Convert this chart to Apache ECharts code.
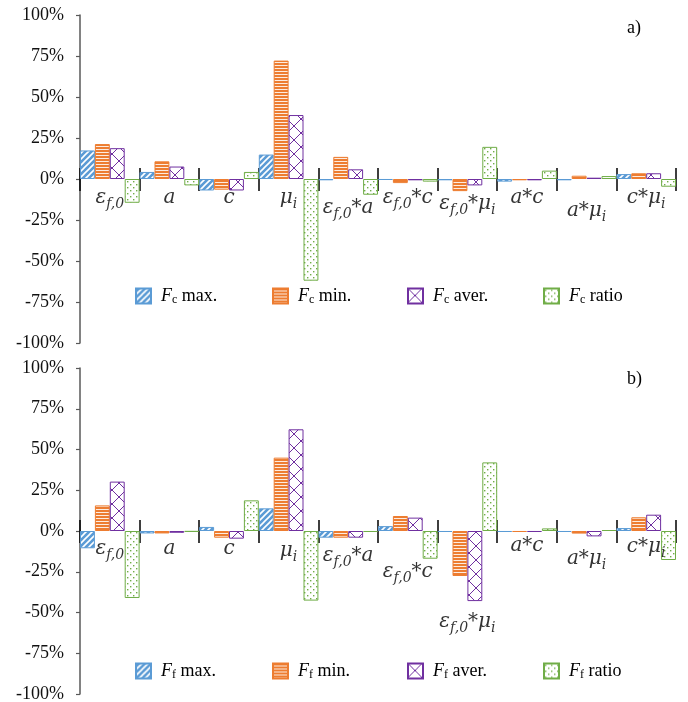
<!DOCTYPE html>
<html><head><meta charset="utf-8">
<script src="https://cdn.jsdelivr.net/npm/echarts@6/dist/echarts.min.js"></script>
<style>html,body{margin:0;padding:0;background:#fff}#c{width:688px;height:702px}</style>
</head><body><div id="c"></div>
<script>
// ---------- DATA ----------
const categories = ['ε_f,0', 'a', 'c', 'μ_i', 'ε_f,0*a', 'ε_f,0*c', 'ε_f,0*μ_i', 'a*c', 'a*μ_i', 'c*μ_i'];
const yMin = -100, yMax = 100, yStep = 25;

const namesTop = ['F_c max.', 'F_c min.', 'F_c aver.', 'F_c ratio'];
const fcMax   = [17.4, 4.3, -7.0, 14.9, -0.8, -0.6, -0.8, -1.6, -0.8, 3.0];
const fcMin   = [21.3, 10.8, -6.5, 72.2, 13.5, -2.5, -7.4, -0.8, 2.0, 3.5];
const fcAver  = [18.8, 7.6, -7.0, 39.0, 5.9, -0.8, -3.9, -0.8, 0.8, 3.5];
const fcRatio = [-14.5, -3.9, 4.3, -62.0, -9.6, -1.6, 19.6, 5.1, 1.8, -4.7];

const namesBottom = ['F_f max.', 'F_f min.', 'F_f aver.', 'F_f ratio'];
const ffMax   = [-10.6, -1.5, 2.5, 13.9, -4.1, 3.0, -0.6, -0.6, -0.6, 1.8];
const ffMin   = [15.7, -1.5, -4.1, 45.0, -4.1, 9.2, -27.6, -0.6, -1.6, 8.4];
const ffAver  = [30.3, -1.1, -4.7, 62.4, -4.1, 8.2, -43.0, -0.6, -3.3, 10.0];
const ffRatio = [-41.1, -0.5, 18.8, -42.7, -0.6, -17.0, 42.1, 1.6, 0.6, -17.8];

const panelLabels = ['a)', 'b)'];

// ---------- STYLE ----------
const colors = ['#5B9BD5', '#ED7D31', '#7030A0', '#70AD47'];
// downward offset (px) of each category label below the zero line, per panel
const labelShiftTop = [6, 6, 6, 6, 16, 6, 12, 6, 19, 6];
const labelShiftBottom = [5, 5, 5, 7, 12, 28, 78, 2, 15, 3];

function tile(w, h, draw) {
  const c = document.createElement('canvas');
  c.width = w; c.height = h;
  draw(c.getContext('2d'), w, h);
  return { image: c, repeat: 'repeat' };
}
const patterns = [
  tile(6, 6, (g) => {
    g.fillStyle = colors[0]; g.fillRect(0, 0, 6, 6);
    g.strokeStyle = '#ffffff'; g.lineWidth = 1.6;
    g.beginPath();
    g.moveTo(-1, 7); g.lineTo(7, -1);
    g.moveTo(-1, 1); g.lineTo(1, -1);
    g.moveTo(5, 7); g.lineTo(7, 5);
    g.stroke();
  }),
  tile(4, 3, (g) => {
    g.fillStyle = colors[1]; g.fillRect(0, 0, 4, 3);
    g.fillStyle = 'rgba(255,255,255,0.85)'; g.fillRect(0, 2, 4, 1);
  }),
  tile(14, 14, (g) => {
    g.fillStyle = '#ffffff'; g.fillRect(0, 0, 14, 14);
    g.strokeStyle = colors[2]; g.lineWidth = 1;
    g.beginPath();
    g.moveTo(0, 0); g.lineTo(14, 14);
    g.moveTo(14, 0); g.lineTo(0, 14);
    g.stroke();
  }),
  tile(6, 6, (g) => {
    g.fillStyle = '#ffffff'; g.fillRect(0, 0, 6, 6);
    g.fillStyle = colors[3];
    g.fillRect(1, 1, 1.4, 1.4);
    g.fillRect(4, 4, 1.4, 1.4);
  })
];

const serif = '"Liberation Serif", "Times New Roman", serif';
const mathFont = '"DejaVu Serif", serif';

function catRich(name) {
  return '{m|' + name.replace(/_([^*]+)/g, '}{s|$1}{m|') + '}';
}
function legendRich(name) {
  const m = name.match(/^(\w)_(\w)(.*)$/);
  return '{f|' + m[1] + '}{s|' + m[2] + '}{t|' + m[3] + '}';
}

const grids = [
  { left: 80, right: 12, top: 15, height: 328, outerBoundsMode: 'none', containLabel: false },
  { left: 80, right: 12, top: 368, height: 326, outerBoundsMode: 'none', containLabel: false }
];

const xAxes = [], yAxes = [], series = [], legends = [];
const panels = [
  { names: namesTop, data: [fcMax, fcMin, fcAver, fcRatio], shift: labelShiftTop, legendTop: 287 },
  { names: namesBottom, data: [ffMax, ffMin, ffAver, ffRatio], shift: labelShiftBottom, legendTop: 662 }
];
const legendLefts = [135, 272, 407, 543];

panels.forEach((p, gi) => {
  const yMain = yAxes.length;
  yAxes.push({
    type: 'value', gridIndex: gi, min: yMin, max: yMax, interval: yStep,
    axisLine: { show: true, onZero: false, lineStyle: { color: '#595959', width: 1.5 } },
    axisTick: { show: true, length: 4, lineStyle: { color: '#595959', width: 1.2 } },
    splitLine: { show: false },
    axisLabel: { formatter: '{value}%', margin: 16, color: '#111', fontFamily: serif, fontSize: 18 }
  });
  const yAux = yAxes.length;
  yAxes.push({
    type: 'value', gridIndex: gi, min: yMin, max: yMax, interval: yStep, position: 'right',
    axisLine: { show: false }, axisTick: { show: false }, axisLabel: { show: false }, splitLine: { show: false }
  });
  const xMain = xAxes.length;
  xAxes.push({
    type: 'category', gridIndex: gi, position: 'bottom', data: categories,
    axisLine: { show: true, onZero: true, onZeroAxisIndex: yMain, lineStyle: { color: 'rgba(0,0,0,0)' } },
    axisTick: { show: true, interval: 0, length: 12, lineStyle: { color: '#000', width: 1.5 } },
    axisLabel: { show: false }
  });
  xAxes.push({
    type: 'category', gridIndex: gi, position: 'top', data: categories,
    axisLine: { show: true, onZero: true, onZeroAxisIndex: yAux, lineStyle: { color: 'rgba(0,0,0,0)' } },
    axisTick: { show: true, interval: 0, length: 11, lineStyle: { color: '#000', width: 1.5 } },
    axisLabel: { show: false }
  });
  p.names.forEach((nm, si) => {
    series.push({
      type: 'bar', name: nm, xAxisIndex: xMain, yAxisIndex: yMain, data: p.data[si],
      barGap: '0%', barCategoryGap: '0%',
      itemStyle: { color: patterns[si], borderColor: colors[si], borderWidth: 1 },
      emphasis: { disabled: true }
    });
    legends.push({
      data: [nm], left: legendLefts[si], top: p.legendTop, padding: 0,
      itemWidth: 15, itemHeight: 15, icon: 'rect', selectedMode: false,
      formatter: legendRich,
      textStyle: {
        rich: {
          f: { fontFamily: serif, fontStyle: 'italic', fontSize: 18, lineHeight: 20, color: '#000', padding: [0, 0, 0, 5] },
          s: { fontFamily: serif, fontSize: 12, lineHeight: 12, verticalAlign: 'bottom', color: '#000' },
          t: { fontFamily: serif, fontSize: 18, lineHeight: 20, color: '#000' }
        }
      }
    });
  });
  // category labels anchored on the zero line of each category
  series.push({
    type: 'scatter', name: 'labels' + gi, xAxisIndex: xMain, yAxisIndex: yMain,
    symbolSize: 0, silent: true, z: 5,
    data: categories.map((c, i) => ({ value: [i, 0], label: { offset: [0, p.shift[i]] } })),
    label: {
      show: true, position: 'bottom', distance: 0,
      formatter: (prm) => catRich(categories[prm.dataIndex]),
      rich: {
        m: { fontFamily: mathFont, fontStyle: 'italic', fontSize: 20, lineHeight: 26, color: '#000' },
        s: { fontFamily: mathFont, fontStyle: 'italic', fontSize: 14, lineHeight: 14, verticalAlign: 'bottom', color: '#000' }
      }
    },
    emphasis: { disabled: true }
  });
});

const chart = echarts.init(document.getElementById('c'), null, { renderer: 'canvas' });
chart.setOption({
  animation: false,
  backgroundColor: '#fff',
  grid: grids,
  xAxis: xAxes,
  yAxis: yAxes,
  legend: legends,
  series: series,
  graphic: [
    { type: 'text', left: 627, top: 19, style: { text: panelLabels[0], font: '18px ' + serif, fill: '#000' } },
    { type: 'text', left: 627, top: 370, style: { text: panelLabels[1], font: '18px ' + serif, fill: '#000' } }
  ]
});
</script></body></html>
